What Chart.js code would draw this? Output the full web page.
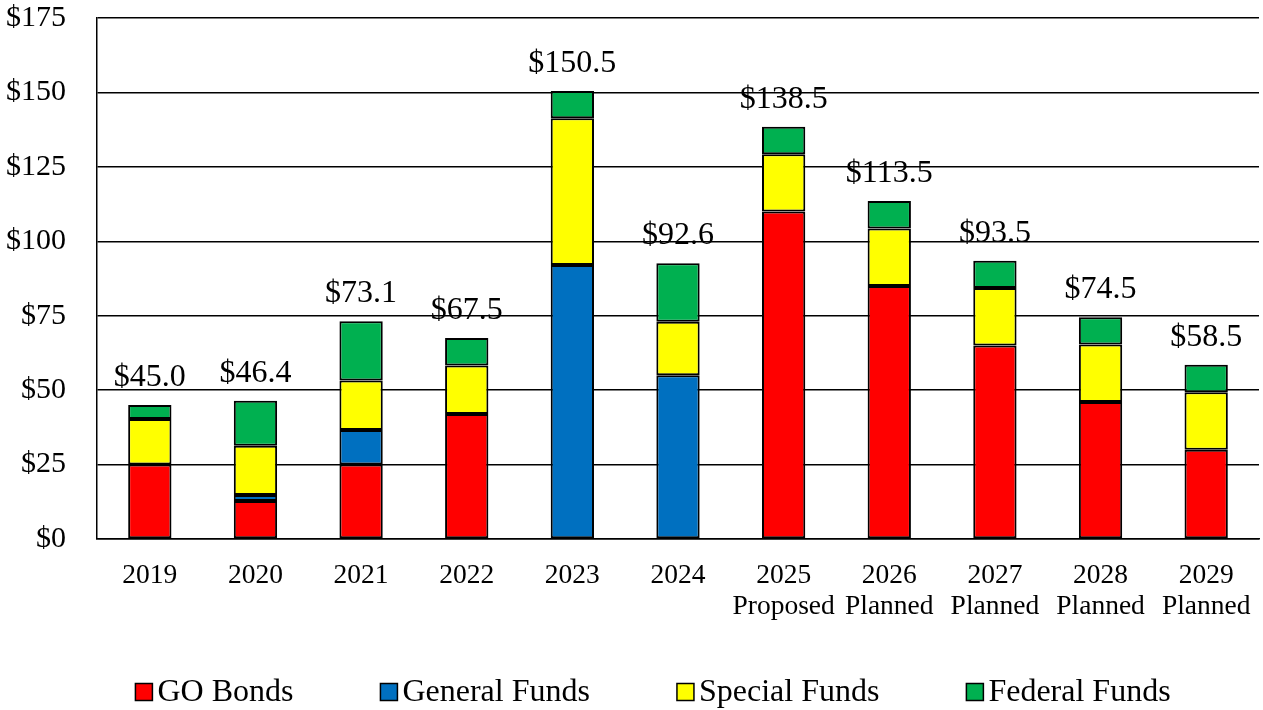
<!DOCTYPE html>
<html>
<head>
<meta charset="utf-8">
<script src="https://cdn.jsdelivr.net/npm/chart.js@4/dist/chart.umd.min.js"></script>
<style>
  html, body { margin: 0; padding: 0; background: #fff; }
  #wrap { width: 1263px; height: 710px; position: relative; }
</style>
</head>
<body>
<div id="wrap"><canvas id="c" width="1263" height="710"></canvas></div>
<script>
// ---- data ----
const years = ['2019', '2020', '2021', '2022', '2023', '2024', '2025', '2026', '2027', '2028', '2029'];
const status = ['', '', '', '', '', '', 'Proposed', 'Planned', 'Planned', 'Planned', 'Planned'];
const goBonds      = [25, 12.8, 25, 42, null, null, 110, 85, 65, 46, 30];
const generalFunds = [null, 2.0, 11.6, null, 92, 55, null, null, null, null, null];
const specialFunds = [15.3, 16.5, 16.6, 16.3, 49.3, 18, 19.2, 19.3, 19.3, 19.3, 19.3];
const federalFunds = [4.7, 15.1, 19.9, 9.2, 9.2, 19.6, 9.3, 9.2, 9.2, 9.2, 9.2];
const seriesNames = ['GO Bonds', 'General Funds', 'Special Funds', 'Federal Funds'];
const yTicks = [0, 25, 50, 75, 100, 125, 150, 175];

// ---- style ----
const FONT = '"Liberation Serif", "Times New Roman", serif';
const colors = ['#FF0000', '#0070C0', '#FFFF00', '#00B050'];

const labels = years.map((y, i) => status[i] ? [y, status[i]] : y);
const seriesData = [goBonds, generalFunds, specialFunds, federalFunds];
const totals = years.map((_, i) => seriesData.reduce((s, arr) => s + (arr[i] || 0), 0));

const totalLabels = {
  id: 'totalLabels',
  afterDatasetsDraw(chart) {
    const ctx = chart.ctx;
    const x = chart.scales.x, y = chart.scales.y;
    ctx.save();
    ctx.font = '32px ' + FONT;
    ctx.fillStyle = '#000';
    ctx.textAlign = 'center';
    ctx.textBaseline = 'alphabetic';
    totals.forEach((t, i) => {
      const px = x.getPixelForValue(i);
      const py = y.getPixelForValue(t);
      ctx.fillText('$' + t.toFixed(1), px, py - 19);
    });
    ctx.restore();
  }
};

const customLegend = {
  id: 'customLegend',
  afterDraw(chart) {
    const ctx = chart.ctx;
    ctx.save();
    ctx.font = '32px ' + FONT;
    const box = 17, textGap = 5, itemGap = 87;
    const widths = chart.data.datasets.map(d => box + textGap + ctx.measureText(d.label).width);
    const total = widths.reduce((a, b) => a + b, 0) + itemGap * (widths.length - 1);
    let x = 653 - total / 2;
    const cy = 692;
    chart.data.datasets.forEach((d, i) => {
      ctx.fillStyle = d.backgroundColor;
      ctx.fillRect(x, cy - box / 2, box, box);
      ctx.strokeStyle = '#000';
      ctx.lineWidth = 1.5;
      ctx.strokeRect(x, cy - box / 2, box, box);
      ctx.fillStyle = '#000';
      ctx.textAlign = 'left';
      ctx.textBaseline = 'middle';
      ctx.fillText(d.label, x + box + textGap, cy + 1);
      x += widths[i] + itemGap;
    });
    ctx.restore();
  }
};

new Chart(document.getElementById('c'), {
  type: 'bar',
  data: {
    labels: labels,
    datasets: seriesData.map((arr, i) => ({
      label: seriesNames[i],
      data: arr,
      backgroundColor: colors[i],
      borderColor: '#000',
      borderWidth: 2,
      borderSkipped: false,
      barPercentage: 0.41,
      categoryPercentage: 1.0
    }))
  },
  options: {
    responsive: false,
    animation: false,
    devicePixelRatio: 1,
    layout: { padding: { left: 6, right: 4, top: 18, bottom: 88 } },
    plugins: {
      legend: { display: false },
      tooltip: { enabled: false }
    },
    scales: {
      x: {
        stacked: true,
        grid: { display: false, drawTicks: false },
        border: { display: true, color: '#000', width: 1.5 },
        afterFit(scale) { scale.height = 83; scale.paddingLeft = 0; scale.paddingRight = 0; },
        ticks: {
          color: '#000',
          padding: 21,
          maxRotation: 0,
          autoSkip: false,
          font: { family: FONT, size: 27.5, lineHeight: 1.13 }
        }
      },
      y: {
        stacked: true,
        min: 0,
        max: 175,
        afterBuildTicks(scale) { scale.ticks = yTicks.map(v => ({ value: v })); },
        afterFit(scale) { scale.width = 91; scale.paddingTop = 0; scale.paddingBottom = 0; },
        grid: { color: '#000', lineWidth: 1.5, drawTicks: false },
        border: { display: true, color: '#000', width: 1.5 },
        ticks: {
          color: '#000',
          padding: 31,
          font: { family: FONT, size: 30 },
          callback: v => '$' + v
        }
      }
    }
  },
  plugins: [totalLabels, customLegend]
});
</script>
</body>
</html>
